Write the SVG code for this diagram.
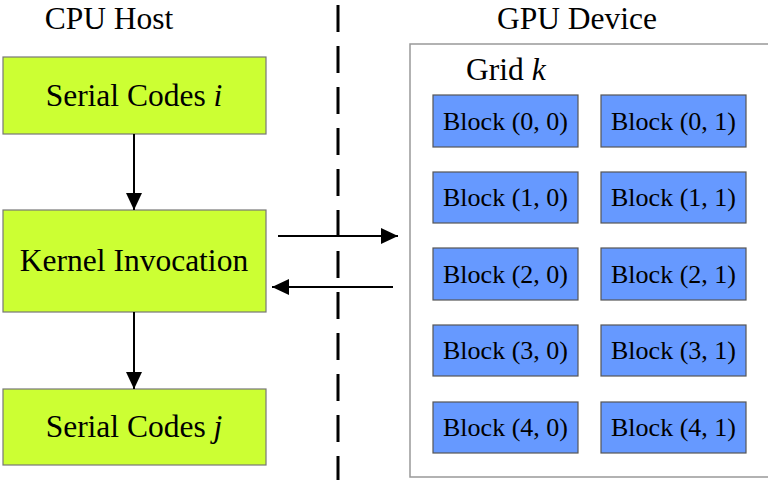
<svg xmlns="http://www.w3.org/2000/svg" width="768" height="480" viewBox="0 0 768 480" font-family="'Liberation Serif', 'Times New Roman', serif">
<style>
text{font-family:'Liberation Serif','Times New Roman',serif;fill:#000}
.t{font-size:31.5px}
.b{font-size:26px}
.green{fill:#CCFF33;stroke:#777;stroke-width:1.2}
.blue{fill:#6699FF;stroke:#555;stroke-width:1.2}
.conn{stroke:#000;stroke-width:2;fill:none}
</style>
<defs>
<marker id="ah" markerWidth="17" markerHeight="16" refX="17" refY="8" orient="auto" markerUnits="userSpaceOnUse">
<path d="M0,0 L17,8 L0,16 Z" fill="#000"/>
</marker>
</defs>
<rect width="768" height="480" fill="#fff"/>
<text class="t" x="109" y="29" text-anchor="middle">CPU Host</text>
<text class="t" x="577" y="29" text-anchor="middle">GPU Device</text>
<line x1="338" y1="5" x2="338" y2="480" stroke="#000" stroke-width="3" stroke-dasharray="27,14"/>
<g id="grid">
<rect x="410" y="44" width="362" height="433" fill="#fff" stroke="#999" stroke-width="1.5"/>
<text class="t" x="466" y="80">Grid <tspan font-style="italic">k</tspan></text>
</g>
<g id="serial-i"><rect class="green" x="3" y="57" width="263" height="77"/><text class="t" x="134" y="106" text-anchor="middle">Serial Codes <tspan font-style="italic">i</tspan></text></g>
<g id="kernel"><rect class="green" x="3" y="210" width="263" height="102"/><text class="t" x="134" y="271" text-anchor="middle">Kernel Invocation</text></g>
<g id="serial-j"><rect class="green" x="3" y="389" width="263" height="76"/><text class="t" x="134" y="437" text-anchor="middle">Serial Codes <tspan font-style="italic">j</tspan></text></g>
<g id="b00"><rect class="blue" x="433" y="95" width="145" height="52"/><text class="b" x="505.5" y="130" text-anchor="middle">Block (0, 0)</text></g>
<g id="b01"><rect class="blue" x="601" y="95" width="145" height="52"/><text class="b" x="673.5" y="130" text-anchor="middle">Block (0, 1)</text></g>
<g id="b10"><rect class="blue" x="433" y="172" width="145" height="51"/><text class="b" x="505.5" y="206" text-anchor="middle">Block (1, 0)</text></g>
<g id="b11"><rect class="blue" x="601" y="172" width="145" height="51"/><text class="b" x="673.5" y="206" text-anchor="middle">Block (1, 1)</text></g>
<g id="b20"><rect class="blue" x="433" y="248" width="145" height="52"/><text class="b" x="505.5" y="283" text-anchor="middle">Block (2, 0)</text></g>
<g id="b21"><rect class="blue" x="601" y="248" width="145" height="52"/><text class="b" x="673.5" y="283" text-anchor="middle">Block (2, 1)</text></g>
<g id="b30"><rect class="blue" x="433" y="325" width="145" height="51"/><text class="b" x="505.5" y="359" text-anchor="middle">Block (3, 0)</text></g>
<g id="b31"><rect class="blue" x="601" y="325" width="145" height="51"/><text class="b" x="673.5" y="359" text-anchor="middle">Block (3, 1)</text></g>
<g id="b40"><rect class="blue" x="433" y="402" width="145" height="51"/><text class="b" x="505.5" y="436" text-anchor="middle">Block (4, 0)</text></g>
<g id="b41"><rect class="blue" x="601" y="402" width="145" height="51"/><text class="b" x="673.5" y="436" text-anchor="middle">Block (4, 1)</text></g>
<g id="connectors">
<line class="conn" x1="134" y1="134" x2="134" y2="210" marker-end="url(#ah)"/>
<line class="conn" x1="134" y1="312" x2="134" y2="389" marker-end="url(#ah)"/>
<line class="conn" x1="278" y1="236" x2="398" y2="236" marker-end="url(#ah)"/>
<line class="conn" x1="393" y1="287" x2="272" y2="287" marker-end="url(#ah)"/>
</g>
</svg>
